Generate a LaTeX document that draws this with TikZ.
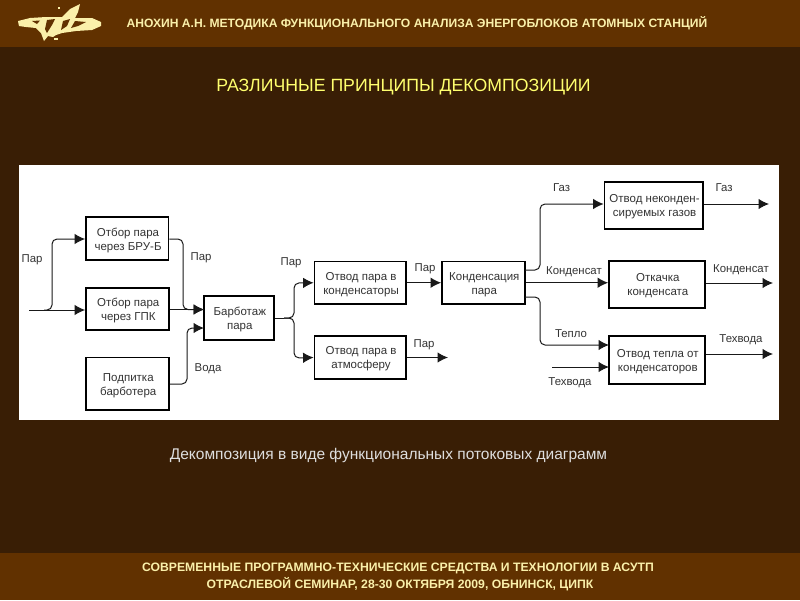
\documentclass[tikz,border=0pt]{standalone}
\usepackage{fontspec}
\setmainfont{Liberation Sans}
\usetikzlibrary{arrows.meta,calc}
\definecolor{bgdark}{RGB}{57,30,5}
\definecolor{band}{RGB}{97,49,0}
\definecolor{cream}{RGB}{250,240,170}
\definecolor{titley}{RGB}{255,255,110}
\definecolor{capt}{RGB}{222,222,222}
\definecolor{lnk}{RGB}{25,25,25}
\tikzset{
  bx/.style={draw=black,line width=1.8pt,fill=white,inner sep=0pt},
  bxt/.style={align=center,font=\fontsize{11.5}{14}\selectfont,text=black!80,inner sep=0pt},
  lbl/.style={font=\fontsize{11.4}{13}\selectfont,text=black!80,inner sep=0pt},
  conn/.style={draw=lnk,line width=1pt,-{Latex[length=10.5pt,width=10.5pt]}},
  line/.style={draw=lnk,line width=1pt},
  rc/.style={rounded corners=5pt},
}
\newcommand{\boxat}[6]{\node[bx,minimum width=#4-#3,minimum height=#6-#5] (#1) at ({(#3+#4)/2},{(#5+#6)/2}) {};
\node[bxt] (#1t) at ({(#3+#4)/2+0.8},{(#5+#6)/2+1.5}) {#2};}
\begin{document}
\begin{tikzpicture}[x=1pt,y=-1pt]
\useasboundingbox (0,0) rectangle (800,600);
\fill[bgdark] (0,0) rectangle (800,600);
\fill[band] (0,0) rectangle (800,46.5);
\fill[band] (0,552.5) rectangle (800,600);
\fill[white] (19,165) rectangle (779,419.5);
% logo
\fill[cream] (18,21) -- (30,18) -- (46,17) -- (58,17) -- (62,17) -- (70,9) -- (80,4) -- (78,12) -- (75,18) -- (92,18) -- (101,22) -- (101,26) -- (92,30) -- (76,31) -- (62,33) -- (56,35) -- (53,37) -- (48,36) -- (44,41) -- (41,33) -- (36,28) -- (26,27) -- (19,26) -- cycle;
\fill[band] (32,21) -- (40,20.5) -- (37,24) -- cycle;
\fill[band] (47,20) -- (55,19) -- (52,25) -- (47,33) -- (45,29) -- cycle;
\fill[band] (63,21) -- (70,19) -- (67,26) -- (61,30) -- cycle;
\fill[band] (75,21) -- (86,22) -- (78,26) -- (71,28) -- cycle;
\fill[cream] (54,38) rectangle (58,39.5);
\fill[cream] (58,7) rectangle (60,8.5);
\fill[cream] (80,18) rectangle (84,19);
% titles
\node[font=\bfseries\fontsize{12.1}{13}\selectfont,text=cream,inner sep=0pt] (head) at (417,23.5) {АНОХИН А.Н. МЕТОДИКА ФУНКЦИОНАЛЬНОГО АНАЛИЗА ЭНЕРГОБЛОКОВ АТОМНЫХ СТАНЦИЙ};
\node[font=\fontsize{17.7}{18}\selectfont,text=titley,inner sep=0pt] (sub) at (403.5,87) {РАЗЛИЧНЫЕ ПРИНЦИПЫ ДЕКОМПОЗИЦИИ};
\node[font=\fontsize{15.5}{16}\selectfont,text=capt,inner sep=0pt] (cap) at (388.5,455) {Декомпозиция в виде функциональных потоковых диаграмм};
\node[font=\bfseries\fontsize{12.2}{13}\selectfont,text=cream,inner sep=0pt] (foot1) at (398,568) {СОВРЕМЕННЫЕ ПРОГРАММНО-ТЕХНИЧЕСКИЕ СРЕДСТВА И ТЕХНОЛОГИИ В АСУТП};
\node[font=\bfseries\fontsize{12.2}{13}\selectfont,text=cream,inner sep=0pt] (foot2) at (400,584) {ОТРАСЛЕВОЙ СЕМИНАР, 28-30 ОКТЯБРЯ 2009, ОБНИНСК, ЦИПК};
% boxes
\boxat{bru}{Отбор пара\\через БРУ-Б}{86}{168.5}{217}{260}
\boxat{gpk}{Отбор пара\\через ГПК}{86}{169}{288}{330}
\boxat{pod}{Подпитка\\барботера}{86}{169}{357.5}{410}
\boxat{bar}{Барботаж\\пара}{204}{274}{296}{340}
\boxat{otk}{Отвод пара в\\конденсаторы}{314.5}{406}{261.5}{304}
\boxat{ota}{Отвод пара в\\атмосферу}{314.5}{406}{336}{379}
\boxat{kon}{Конденсация\\пара}{442}{525}{261.5}{304}
\boxat{neg}{Отвод неконден-\\сируемых газов}{604.5}{703}{182}{229}
\boxat{ots}{Откачка\\конденсата}{609}{705}{261}{308}
\boxat{tep}{Отвод тепла от\\конденсаторов}{609}{705}{336}{384}
% free ends and junctions
\coordinate (in) at (29,310);
\coordinate (j1) at (44,310);
\coordinate (b1) at (204,309.5);
\coordinate (b2) at (204,328);
\coordinate (jf) at (284,318);
\coordinate (oa) at (448,357.5);
\coordinate (k1) at (525,270);
\coordinate (k3) at (525,297);
\coordinate (tv) at (552,367);
\coordinate (t1) at (609,345);
\coordinate (t2) at (609,367);
\coordinate (ng) at (769,204);
\coordinate (os) at (773,283);
\coordinate (ot) at (773,354);
% connectors
\draw[conn] (in) -- (in -| gpk.west);
\draw[conn,rc] (j1) -- (52,310) -- (52,239) -- (bru.west |- 0,239);
\draw[conn,rc] (bru.east |- 0,239) -- (183,239) -- (183,309.5) -- (b1);
\draw[conn] (gpk.east |- b1) -- (b1);
\draw[conn,rc] (pod.east |- 0,384) -- (187,384) -- (187,328) -- (b2);
\draw[line] (bar.east |- jf) -- (jf);
\draw[conn,rc] (jf) -- (294,318) -- (294,283) -- (otk.west);
\draw[conn,rc] (jf) -- (294,318) -- (294,358) -- (ota.west);
\draw[conn] (otk.east) -- (kon.west);
\draw[conn] (ota.east) -- (oa);
\draw[conn,rc] (k1) -- (540,270) -- (540,204) -- (neg.west |- 0,204);
\draw[conn] (kon.east) -- (ots.west |- kon.east);
\draw[conn,rc] (k3) -- (540,297) -- (540,345) -- (t1);
\draw[conn] (tv) -- (t2);
\draw[conn] (neg.east |- ng) -- (ng);
\draw[conn] (ots.east |- os) -- (os);
\draw[conn] (tep.east |- ot) -- (ot);
% labels
\node[lbl] (l1) at (32,260) {Пар};
\node[lbl] (l2) at (201,258) {Пар};
\node[lbl] (l3) at (291,263) {Пар};
\node[lbl] (l4) at (425,269) {Пар};
\node[lbl] (l5) at (424,345) {Пар};
\node[lbl] (l6) at (208,369) {Вода};
\node[lbl] (l7) at (561.5,188) {Газ};
\node[lbl] (l8) at (724,188) {Газ};
\node[lbl] (l9) at (574,272) {Конденсат};
\node[lbl] (l10) at (741,270) {Конденсат};
\node[lbl] (l11) at (571,334) {Тепло};
\node[lbl] (l12) at (570,383) {Техвода};
\node[lbl] (l13) at (741,340) {Техвода};
\end{tikzpicture}
\end{document}
